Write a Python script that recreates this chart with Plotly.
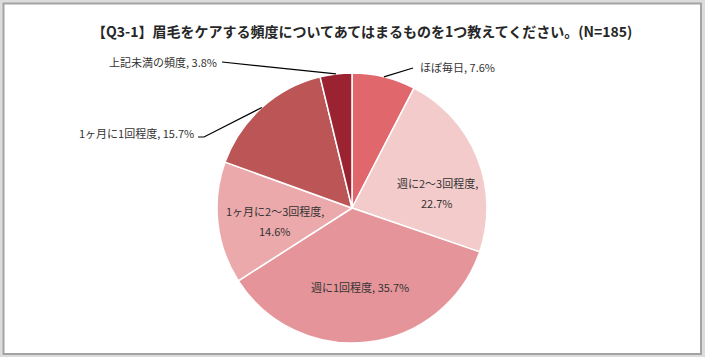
import math
import plotly.graph_objects as go

# ---- data ----
categories = ["ほぼ毎日", "週に2～3回程度", "週に1回程度", "1ヶ月に2～3回程度", "1ヶ月に1回程度", "上記未満の頻度"]
values = [7.6, 22.7, 35.7, 14.6, 15.7, 3.8]
title_text = "【Q3-1】眉毛をケアする頻度についてあてはまるものを1つ教えてください。(N=185)"

# ---- styles / layout ----
W, H = 705, 357
colors = ["#E0676B", "#F3CBCB", "#E5959A", "#EBA9AB", "#BC5656", "#9B2331"]
cx, cy, R = 352, 208, 135  # pie center/radius in px
FONT = "Noto Sans CJK JP"
TXT = "#333333"

label_cfg = {
    "ほぼ毎日": dict(x=418, y=67, xanchor="left", outside=True, knee=(413, 68)),
    "週に2～3回程度": dict(x=437, y=193, xanchor="center", outside=False, br=True),
    "週に1回程度": dict(x=360, y=287, xanchor="center", outside=False, br=False),
    "1ヶ月に2～3回程度": dict(x=275, y=221, xanchor="center", outside=False, br=True),
    "1ヶ月に1回程度": dict(x=196, y=133, xanchor="right", outside=True, knee=(204, 137), start=(198, 137)),
    "上記未満の頻度": dict(x=219, y=62, xanchor="right", outside=True, knee=(222, 62)),
}

def px2paper(x, y):
    return x / W, 1 - y / H

fig = go.Figure()
fig.add_trace(go.Pie(
    labels=categories,
    values=values,
    sort=False,
    direction="clockwise",
    rotation=0,
    marker=dict(colors=colors, line=dict(color="white", width=1.5)),
    textinfo="none",
    hoverinfo="label+percent",
    domain=dict(x=[(cx - R) / W, (cx + R) / W], y=[(H - cy - R) / H, (H - cy + R) / H]),
    showlegend=False,
))

annotations = []
shapes = [
    dict(type="rect", xref="paper", yref="paper", x0=3.5 / W, x1=701 / W, y0=1 - 354 / H, y1=1 - 3.5 / H,
         line=dict(color="#A3A3A3", width=2), fillcolor="white", layer="below"),
]

def add_text(x, y, txt, xanchor):
    ax_, ay_ = px2paper(x, y)
    annotations.append(dict(x=ax_, y=ay_, xref="paper", yref="paper", text=txt, showarrow=False,
                            xanchor=xanchor, yanchor="middle", align="center",
                            font=dict(family=FONT, size=11, color=TXT)))

total = sum(values)
cum = 0.0
for cat, v in zip(categories, values):
    mid = (cum + v / 2) / total * 2 * math.pi
    cum += v
    cfg = label_cfg[cat]
    ex = cx + R * math.sin(mid)
    ey = cy - R * math.cos(mid)
    if cfg["outside"]:
        kx, ky = cfg["knee"]
        sx, sy = cfg.get("start", (kx, ky))
        pts = [(ex, ey), (kx, ky), (sx, sy)]
        path = "M " + " L ".join(f"{px2paper(x, y)[0]},{px2paper(x, y)[1]}" for x, y in pts)
        shapes.append(dict(type="path", xref="paper", yref="paper", path=path,
                           line=dict(color="#000000", width=1.2), layer="above"))
        add_text(cfg["x"], cfg["y"], f"{cat}, {v:.1f}%", cfg["xanchor"])
    elif cfg["br"]:
        add_text(cfg["x"], cfg["y"] - 10, f"{cat},", "center")
        add_text(cfg["x"], cfg["y"] + 10, f"{v:.1f}%", "center")
    else:
        add_text(cfg["x"], cfg["y"], f"{cat}, {v:.1f}%", "center")

tx, ty = px2paper(362, 31)
annotations.append(dict(x=tx, y=ty, xref="paper", yref="paper", text=title_text, showarrow=False,
                        xanchor="center", yanchor="middle",
                        font=dict(family=FONT, size=14, color="#262626", weight="bold")))

fig.update_layout(
    width=W, height=H,
    margin=dict(l=0, r=0, t=0, b=0),
    paper_bgcolor="#DCDCDC",
    plot_bgcolor="white",
    annotations=annotations,
    shapes=shapes,
)
fig.write_html("out.html", config=dict(displayModeBar=False),
               post_script="document.body.style.margin='0';document.body.style.overflow='hidden';")
